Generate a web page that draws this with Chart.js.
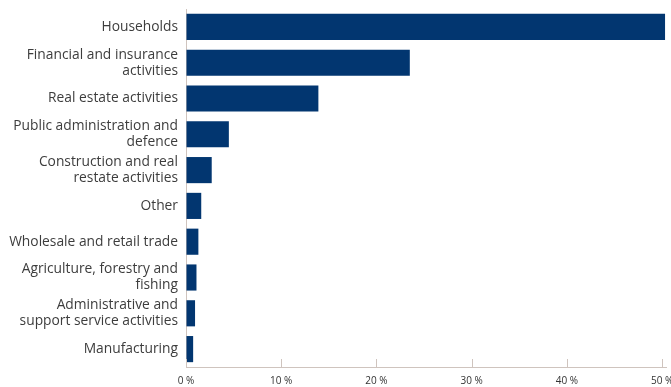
<!DOCTYPE html>
<html>
<head>
<meta charset="utf-8">
<script src="https://cdn.jsdelivr.net/npm/chart.js@4"></script>
<style>
  html, body { margin: 0; padding: 0; background: #fff; }
  #wrap { width: 671px; height: 387px; }
</style>
</head>
<body>
<div id="wrap"><canvas id="c" width="671" height="387"></canvas></div>
<script>
// Sectors, top to bottom
const categories = [
  'Households',
  ['Financial and insurance', 'activities'],
  'Real estate activities',
  ['Public administration and', 'defence'],
  ['Construction and real', 'restate activities'],
  'Other',
  'Wholesale and retail trade',
  ['Agriculture, forestry and', 'fishing'],
  ['Administrative and', 'support service activities'],
  'Manufacturing'
];
// Share of total, percent
const shares = [50.3, 23.5, 13.9, 4.5, 2.7, 1.6, 1.3, 1.1, 0.95, 0.75];
// Axis ticks, percent
const xTicks = [0, 10, 20, 30, 40, 50];

const axisColor = '#cfc4be';

// Short tick marks standing up from the bottom axis
const upTicks = {
  id: 'upTicks',
  afterDatasetsDraw(chart) {
    const x = chart.scales.x;
    const ctx = chart.ctx;
    const bottom = chart.chartArea.bottom;
    ctx.save();
    ctx.strokeStyle = axisColor;
    ctx.lineWidth = 1;
    x.ticks.forEach((t, i) => {
      const px = Math.round(x.getPixelForTick(i)) + 0.5;
      ctx.beginPath();
      ctx.moveTo(px, bottom);
      ctx.lineTo(px, bottom - 8);
      ctx.stroke();
    });
    ctx.restore();
  }
};

new Chart(document.getElementById('c'), {
  type: 'bar',
  data: {
    labels: categories,
    datasets: [{
      data: shares,
      backgroundColor: '#023670',
      borderWidth: 0,
      barPercentage: 0.73,
      categoryPercentage: 1.0
    }]
  },
  options: {
    indexAxis: 'y',
    responsive: false,
    animation: false,
    events: [],
    layout: { padding: { top: 9, right: 5, left: 0, bottom: 0 } },
    plugins: { legend: { display: false }, tooltip: { enabled: false } },
    scales: {
      x: {
        min: 0,
        max: 50.4,
        afterBuildTicks(scale) {
          scale.ticks = xTicks.map(v => ({ value: v }));
        },
        afterFit(scale) {
          scale.paddingLeft = 0;
          scale.paddingRight = 0;
          scale.height = 20;
        },
        grid: { display: true, drawOnChartArea: false, drawTicks: false },
        border: { display: true, color: axisColor, width: 1 },
        ticks: {
          padding: 8,
          color: '#333333',
          font: { family: 'Open Sans', size: 10 },
          callback: v => v + ' %',
          maxRotation: 0,
          autoSkip: false
        }
      },
      y: {
        afterFit(scale) {
          scale.width = 186;
          scale.paddingTop = 0;
          scale.paddingBottom = 0;
        },
        grid: { display: false, drawTicks: false },
        border: { display: true, color: axisColor, width: 1 },
        ticks: {
          padding: 8,
          color: '#3d3d3d',
          font: { family: 'Open Sans', size: 13.8, lineHeight: 1.15 },
          autoSkip: false
        }
      }
    }
  },
  plugins: [upTicks]
});
</script>
</body>
</html>
